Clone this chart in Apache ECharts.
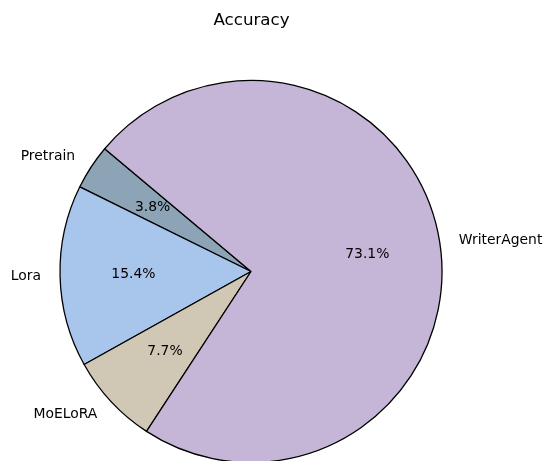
<!DOCTYPE html>
<html>
<head>
<meta charset="utf-8">
<script src="https://cdn.jsdelivr.net/npm/echarts@6/dist/echarts.min.js"></script>
<style>
html,body{margin:0;padding:0;background:#fff;}
#chart{width:548px;height:461px;}
</style>
</head>
<body>
<div id="chart"></div>
<script>
// Data
var titleText = 'Accuracy';
var categories = ['Pretrain', 'Lora', 'MoELoRA', 'WriterAgent'];
var shares = [3.8, 15.4, 7.7, 73.1];
var colors = ['#8ca4b6', '#a8c5eb', '#d1c7b5', '#c5b6d8'];

var cx = 251, cy = 271.5, R = 191;
var font = 'DejaVu Sans';

var mainData = categories.map(function (c, i) {
  return { name: c, value: shares[i], itemStyle: { color: colors[i] } };
});
var pctData = categories.map(function (c, i) {
  return { name: c, value: shares[i] };
});

var chart = echarts.init(document.getElementById('chart'), null, { renderer: 'canvas' });
chart.setOption({
  animation: false,
  backgroundColor: '#ffffff',
  title: {
    text: titleText,
    left: cx - 4.5,
    textAlign: 'center',
    top: 7,
    textStyle: { fontFamily: font, fontSize: 16.7, fontWeight: 'normal', color: '#000' }
  },
  series: [
    {
      type: 'pie',
      center: [cx, cy],
      radius: [0, R],
      startAngle: 140,
      clockwise: false,
      avoidLabelOverlap: false,
      silent: true,
      data: mainData,
      itemStyle: { borderColor: '#000', borderWidth: 1.3 },
      label: {
        show: true,
        position: 'outside',
        formatter: '{b}',
        fontFamily: font,
        fontSize: 13.9,
        color: '#000',
        distanceToLabelLine: 0
      },
      labelLine: { show: false, length: R * 0.1, length2: 0 }
    },
    {
      type: 'pie',
      center: [cx, cy],
      radius: [0, R * 1.2],
      startAngle: 140,
      clockwise: false,
      silent: true,
      z: 5,
      data: pctData,
      itemStyle: { color: 'rgba(0,0,0,0)', borderWidth: 0 },
      label: {
        show: true,
        position: 'inside',
        formatter: function (p) { return p.value.toFixed(1) + '%'; },
        fontFamily: font,
        fontSize: 13.9,
        color: '#000'
      },
      labelLine: { show: false }
    }
  ]
});
</script>
</body>
</html>
